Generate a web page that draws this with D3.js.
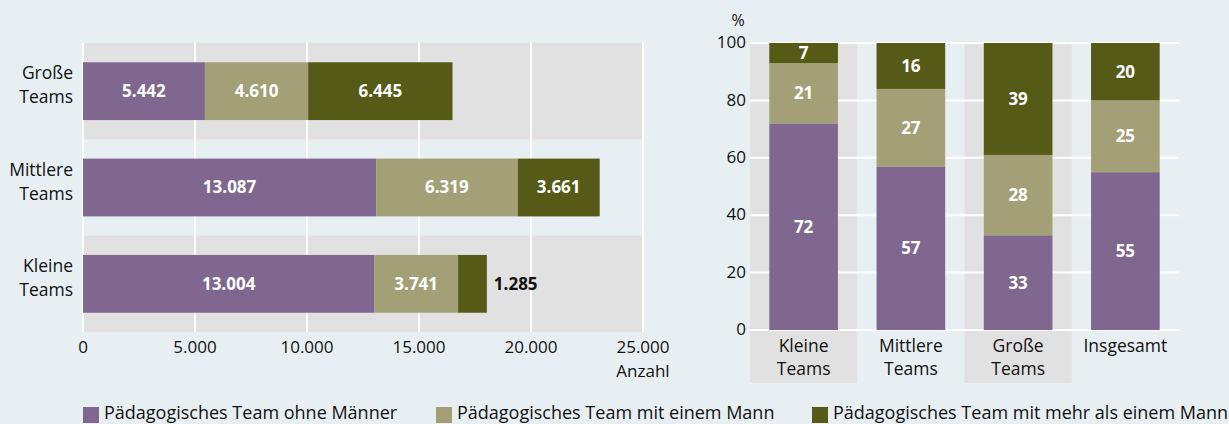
<!DOCTYPE html>
<html>
<head>
<meta charset="utf-8">
<script src="https://cdn.jsdelivr.net/npm/d3@7"></script>
<style>
  body { margin: 0; background: #e8eff2; }
  svg { display: block; font-family: "Open Sans", "Noto Sans", sans-serif; }
</style>
</head>
<body>
<svg id="chart" width="1229" height="424"></svg>
<script>
// left chart: absolute numbers
const teamsAbs = ["Große Teams", "Mittlere Teams", "Kleine Teams"];
const ohneMaenner = [5442, 13087, 13004];
const einMann = [4610, 6319, 3741];
const mehrMaenner = [6445, 3661, 1285];
const absTicks = [0, 5000, 10000, 15000, 20000, 25000];

// right chart: shares in percent
const teamsPct = ["Kleine Teams", "Mittlere Teams", "Große Teams", "Insgesamt"];
const pctOhne = [72, 57, 33, 55];
const pctEin = [21, 27, 28, 25];
const pctMehr = [7, 16, 39, 20];
const pctTicks = [0, 20, 40, 60, 80, 100];

const seriesNames = [
  "Pädagogisches Team ohne Männer",
  "Pädagogisches Team mit einem Mann",
  "Pädagogisches Team mit mehr als einem Mann"
];
const colors = ["#80678f", "#a3a077", "#555a17"];
const bandFill = "#e1e1e1";

const svg = d3.select("#chart");
const fmt = d3.formatLocale({ decimal: ",", thousands: ".", grouping: [3], currency: ["", "€"] }).format(",d");

const labelSize = 17.5, valueSize = 17, tickSize = 17;

function wrapLabel(sel, lines, lh) {
  lines.forEach((l, i) => {
    sel.append("tspan").attr("x", sel.attr("x")).attr("dy", i === 0 ? -(lines.length - 1) * lh / 2 : lh).text(l);
  });
}

// ---------- left chart ----------
const L = { x0: 83, x1: 643, y0: 43, y1: 332 };
const x = d3.scaleLinear().domain([0, 25000]).range([L.x0, L.x1]);
const yb = d3.scaleBand().domain(teamsAbs).range([L.y0, L.y1]).padding(0);
const barH = yb.bandwidth() * 0.6;

const left = svg.append("g");
left.selectAll(".band").data(teamsAbs.filter((d, i) => i % 2 === 0)).enter()
  .append("rect").attr("x", L.x0).attr("width", L.x1 - L.x0)
  .attr("y", d => yb(d)).attr("height", yb.bandwidth()).attr("fill", bandFill);

left.selectAll(".grid").data(absTicks).enter().append("line")
  .attr("x1", d => x(d)).attr("x2", d => x(d)).attr("y1", L.y0).attr("y2", L.y1)
  .attr("stroke", "#fff").attr("stroke-width", 2);

const absData = teamsAbs.map((t, i) => [ohneMaenner[i], einMann[i], mehrMaenner[i]]);
absData.forEach((vals, i) => {
  let acc = 0;
  const yTop = yb(teamsAbs[i]) + (yb.bandwidth() - barH) / 2;
  vals.forEach((v, s) => {
    const x0 = x(acc), x1 = x(acc + v);
    left.append("rect").attr("x", x0).attr("y", yTop).attr("width", x1 - x0).attr("height", barH).attr("fill", colors[s]);
    const small = (x1 - x0) < 50;
    left.append("text")
      .attr("x", small ? x1 + 7 : (x0 + x1) / 2)
      .attr("y", yTop + barH / 2).attr("dy", "0.35em")
      .attr("text-anchor", small ? "start" : "middle")
      .attr("font-weight", "bold").attr("font-size", valueSize)
      .attr("fill", small ? "#111" : "#fff")
      .text(fmt(v));
    acc += v;
  });
  const lbl = left.append("text").attr("x", 73).attr("y", yb(teamsAbs[i]) + yb.bandwidth() / 2)
    .attr("dy", "0.35em").attr("text-anchor", "end").attr("font-size", labelSize).attr("fill", "#111");
  wrapLabel(lbl, teamsAbs[i].split(" "), 24);
});

left.selectAll(".tick").data(absTicks).enter().append("text")
  .attr("x", d => x(d)).attr("y", 347).attr("dy", "0.35em").attr("text-anchor", "middle")
  .attr("font-size", tickSize).attr("fill", "#111").text(d => fmt(d));
left.append("text").attr("x", x(25000)).attr("y", 371).attr("dy", "0.35em")
  .attr("text-anchor", "middle").attr("font-size", tickSize).attr("fill", "#111").text("Anzahl");

// ---------- right chart ----------
const R = { x0: 750, x1: 1179, y0: 43, y1: 330 };
const xb = d3.scaleBand().domain(teamsPct).range([R.x0, R.x1]).padding(0);
const y = d3.scaleLinear().domain([0, 100]).range([R.y1, R.y0]);
const barW = xb.bandwidth() * 0.64;

const right = svg.append("g");
right.selectAll(".band").data(teamsPct.filter((d, i) => i % 2 === 0)).enter()
  .append("rect").attr("x", d => xb(d)).attr("width", xb.bandwidth())
  .attr("y", R.y0).attr("height", 383 - R.y0).attr("fill", bandFill);

right.selectAll(".grid").data(pctTicks).enter().append("line")
  .attr("x1", R.x0).attr("x2", R.x1).attr("y1", d => y(d)).attr("y2", d => y(d))
  .attr("stroke", "#fff").attr("stroke-width", 2);

const pctData = teamsPct.map((t, i) => [pctOhne[i], pctEin[i], pctMehr[i]]);
pctData.forEach((vals, i) => {
  let acc = 0;
  const xl = xb(teamsPct[i]) + (xb.bandwidth() - barW) / 2;
  vals.forEach((v, s) => {
    const yt = y(acc + v), yB = y(acc);
    right.append("rect").attr("x", xl).attr("y", yt).attr("width", barW).attr("height", yB - yt).attr("fill", colors[s]);
    right.append("text").attr("x", xl + barW / 2).attr("y", (yt + yB) / 2).attr("dy", "0.35em")
      .attr("text-anchor", "middle").attr("font-weight", "bold").attr("font-size", valueSize).attr("fill", "#fff")
      .text(v);
    acc += v;
  });
  const parts = teamsPct[i].split(" ");
  const lbl = right.append("text").attr("x", xb(teamsPct[i]) + xb.bandwidth() / 2).attr("y", 346)
    .attr("dy", "0.35em").attr("text-anchor", "middle").attr("font-size", labelSize).attr("fill", "#111");
  parts.forEach((p, k) => lbl.append("tspan").attr("x", lbl.attr("x")).attr("dy", k === 0 ? "0.35em" : 23).text(p));
});

right.selectAll(".tick").data(pctTicks).enter().append("text")
  .attr("x", 746).attr("y", d => y(d)).attr("dy", "0.3em").attr("text-anchor", "end")
  .attr("font-size", tickSize).attr("fill", "#111").text(d => d);
right.append("text").attr("x", 738).attr("y", 20).attr("dy", "0.35em").attr("text-anchor", "middle")
  .attr("font-size", 16).attr("fill", "#111").text("%");

// ---------- legend ----------
const legendX = [83, 436, 812];
const legend = svg.append("g");
seriesNames.forEach((n, i) => {
  legend.append("rect").attr("x", legendX[i]).attr("y", 407).attr("width", 16).attr("height", 16).attr("fill", colors[i]);
  legend.append("text").attr("x", legendX[i] + 21).attr("y", 419)
    .attr("font-size", 18).attr("fill", "#111").text(n);
});
</script>
</body>
</html>
